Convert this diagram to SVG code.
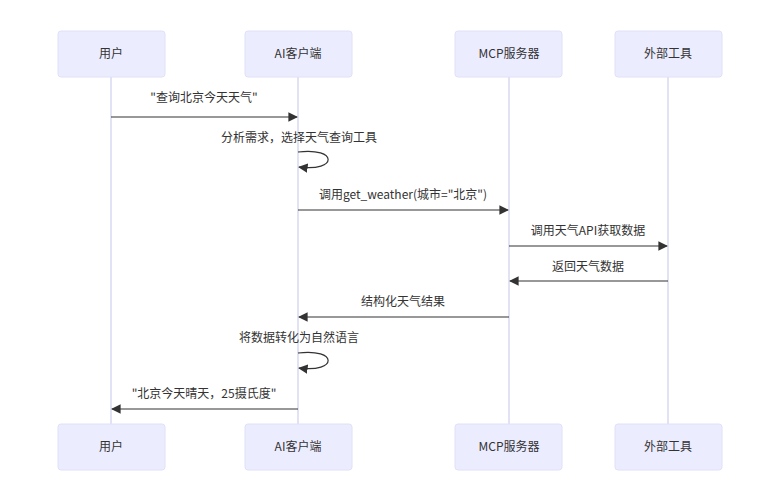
<svg xmlns="http://www.w3.org/2000/svg" width="780" height="500" viewBox="0 0 780 500">
<style>
.a rect{fill:#ECECFF;stroke:#E0E0F8;stroke-width:1}
text{font-family:"Noto Sans CJK SC","Liberation Sans",sans-serif;font-size:12px;fill:#333;text-anchor:middle}
.life{stroke:#CFCFEF;stroke-width:1.2}
.m{stroke:#333;stroke-width:1.2;fill:none}
</style>
<defs><marker id="ah" viewBox="0 0 10 10" refX="9" refY="5" markerWidth="8" markerHeight="8" orient="auto"><path d="M0,0L10,5L0,10z" fill="#333"/></marker></defs>
<rect width="780" height="500" fill="#fff"/>
<g id="lifelines">
<line class="life" x1="111" y1="77" x2="111" y2="424"/>
<line class="life" x1="298" y1="77" x2="298" y2="424"/>
<line class="life" x1="509" y1="77" x2="509" y2="424"/>
<line class="life" x1="668" y1="77" x2="668" y2="424"/>
</g>
<g id="user" class="a"><rect x="58" y="31" width="107" height="46" rx="3"/><text x="111" y="58">用户</text></g>
<g id="client" class="a"><rect x="245" y="31" width="107" height="46" rx="3"/><text x="298" y="58">AI客户端</text></g>
<g id="mcp" class="a"><rect x="455" y="31" width="107" height="46" rx="3"/><text x="509" y="58">MCP服务器</text></g>
<g id="tool" class="a"><rect x="615" y="31" width="107" height="46" rx="3"/><text x="668" y="58">外部工具</text></g>
<g id="user-b" class="a"><rect x="58" y="424" width="107" height="46" rx="3"/><text x="111" y="451">用户</text></g>
<g id="client-b" class="a"><rect x="245" y="424" width="107" height="46" rx="3"/><text x="298" y="451">AI客户端</text></g>
<g id="mcp-b" class="a"><rect x="455" y="424" width="107" height="46" rx="3"/><text x="509" y="451">MCP服务器</text></g>
<g id="tool-b" class="a"><rect x="615" y="424" width="107" height="46" rx="3"/><text x="668" y="451">外部工具</text></g>
<g id="connectors">
<text x="204" y="102">"查询北京今天天气"</text>
<line class="m" x1="111" y1="117" x2="297" y2="117" marker-end="url(#ah)"/>
<text x="299" y="142">分析需求，选择天气查询工具</text>
<path class="m" d="M298,152 C338,147 338,172 299,167" marker-end="url(#ah)"/>
<text x="403" y="199">调用get_weather(城市="北京")</text>
<line class="m" x1="298" y1="210" x2="508" y2="210" marker-end="url(#ah)"/>
<text x="588" y="235">调用天气API获取数据</text>
<line class="m" x1="509" y1="246" x2="667" y2="246" marker-end="url(#ah)"/>
<text x="588" y="271">返回天气数据</text>
<line class="m" x1="668" y1="281" x2="510" y2="281" marker-end="url(#ah)"/>
<text x="403" y="306">结构化天气结果</text>
<line class="m" x1="509" y1="317" x2="299" y2="317" marker-end="url(#ah)"/>
<text x="299" y="342">将数据转化为自然语言</text>
<path class="m" d="M298,353 C338,348 338,373 299,368" marker-end="url(#ah)"/>
<text x="204" y="398">"北京今天晴天，25摄氏度"</text>
<line class="m" x1="298" y1="409" x2="112" y2="409" marker-end="url(#ah)"/>
</g>
</svg>
